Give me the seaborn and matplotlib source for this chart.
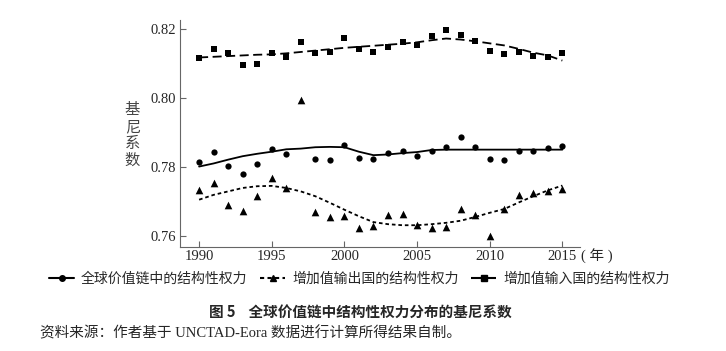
import numpy as np
import pandas as pd
import matplotlib
matplotlib.use("Agg")
import matplotlib.pyplot as plt
from matplotlib.lines import Line2D
import seaborn as sns

# data
years = list(range(1990, 2016))

gvc_power = [0.7815, 0.7843, 0.7805, 0.7781, 0.7809, 0.7854, 0.7837, np.nan,
             0.7823, 0.7821, 0.7864, 0.7826, 0.7825, 0.7842, 0.7848, 0.7833,
             0.7847, 0.7860, 0.7887, 0.7858, 0.7823, 0.7821, 0.7846, 0.7848,
             0.7856, 0.7862]
gvc_trend = [0.7802, 0.7811, 0.7822, 0.7832, 0.7839, 0.7845, 0.7852, 0.7854,
             0.7858, 0.7859, 0.7858, 0.7845, 0.7835, 0.7837, 0.7841, 0.7844,
             0.7850, 0.7851, 0.7851, 0.7851, 0.7851, 0.7851, 0.7851, 0.7851,
             0.7851, 0.7851]

export_power = [0.7733, 0.7755, 0.7692, 0.7672, 0.7716, 0.7769, 0.7740, 0.7994,
                0.7671, 0.7657, 0.7658, 0.7625, 0.7631, 0.7663, 0.7665, 0.7634,
                0.7625, 0.7626, 0.7680, 0.7663, 0.7601, 0.7679, 0.7720, 0.7725,
                0.7731, 0.7737]
export_trend = [0.7706, 0.7720, 0.7730, 0.7740, 0.7745, 0.7746, 0.7740, 0.7730,
                0.7716, 0.7697, 0.7677, 0.7658, 0.7641, 0.7635, 0.7632, 0.7632,
                0.7635, 0.7639, 0.7645, 0.7656, 0.7668, 0.7679, 0.7698, 0.7716,
                0.7733, 0.7747]

import_power = [0.8117, 0.8142, 0.8131, 0.8095, 0.8099, 0.8132, 0.8120, 0.8162,
                0.8132, 0.8134, 0.8174, 0.8143, 0.8135, 0.8149, 0.8162, 0.8153,
                0.8179, 0.8197, 0.8183, 0.8165, 0.8137, 0.8128, 0.8135, 0.8121,
                0.8120, 0.8130]
import_trend = [0.8118, 0.8120, 0.8122, 0.8124, 0.8126, 0.8127, 0.8130, 0.8134,
                0.8138, 0.8142, 0.8146, 0.8149, 0.8152, 0.8155, 0.8158, 0.8162,
                0.8168, 0.8173, 0.8170, 0.8165, 0.8159, 0.8153, 0.8143, 0.8132,
                0.8124, 0.8109]

labels = ["全球价值链中的结构性权力", "增加值输出国的结构性权力", "增加值输入国的结构性权力"]
y_ticks = [0.76, 0.78, 0.80, 0.82]
x_ticks = [1990, 1995, 2000, 2005, 2010, 2015]

sns.set_style("ticks")
plt.rcParams['font.family'] = ['Liberation Serif', 'Noto Sans CJK SC']
plt.rcParams['axes.unicode_minus'] = False

fig = plt.figure(figsize=(7.26, 3.51), dpi=100)
ax = fig.add_axes([0.248, 0.2954, 0.551, 0.647])

dotted = (0, (2, 1.6))
dashed = (0, (5, 2.5))
series = [
    (gvc_power, gvc_trend, "o", "-", 4.5),
    (export_power, export_trend, "^", dotted, 5.5),
    (import_power, import_trend, "s", dashed, 4.5),
]

for pts, trend, mk, ls, ms in series:
    sns.lineplot(x=years, y=trend, ax=ax, color="black", linewidth=1.3,
                 linestyle=ls)
    sns.scatterplot(x=years, y=pts, ax=ax, color="black", marker=mk,
                    s=ms ** 2, edgecolor="black", linewidth=0)

ax.set_xlim(1988.69, 2016.22)
ax.set_ylim(0.7568, 0.8226)
ax.set_xticks(x_ticks)
ax.set_yticks(y_ticks)
ax.set_yticklabels([f"{v:.2f}" for v in y_ticks])
ax.tick_params(axis="both", labelsize=10.5, length=4, width=0.8,
               color="#666666", direction="in")
ax.tick_params(axis="x", pad=2)
ax.tick_params(axis="y", pad=3)
ax.spines["left"].set_color("#666666")
ax.spines["bottom"].set_color("#666666")
sns.despine(ax=ax)
ax.set_xlabel("")
ax.set_ylabel("")

fig.text(0.1825, 0.615, "基\n尼\n系\n数", fontsize=11, ha="center", va="center",
         linespacing=1.0, family=['Noto Sans CJK SC'], color="#444444")
fig.text(0.800, 0.268, "( 年 )", fontsize=10.5, ha="left", va="center",
         family=['Liberation Serif', 'Noto Sans CJK SC'])

handles = [
    Line2D([], [], color="black", linestyle="-", marker="o", markersize=4),
    Line2D([], [], color="black", linestyle=dotted, marker="^", markersize=5),
    Line2D([], [], color="black", linestyle=dashed, marker="s", markersize=4),
]
fig.legend(handles, labels, loc="center", bbox_to_anchor=(0.495, 0.205), ncol=3,
           frameon=False, fontsize=10, handlelength=1.8, handletextpad=0.5,
           columnspacing=0.9, borderpad=0)

fig.text(0.497, 0.111, "图 5    全球价值链中结构性权力分布的基尼系数", fontsize=10.5,
         fontweight="bold", ha="center", va="center",
         family=['Noto Sans CJK SC'])
fig.text(0.055, 0.052, "资料来源：作者基于 UNCTAD-Eora 数据进行计算所得结果自制。",
         fontsize=10.5, ha="left", va="center")

fig.savefig("out.png", dpi=100)
